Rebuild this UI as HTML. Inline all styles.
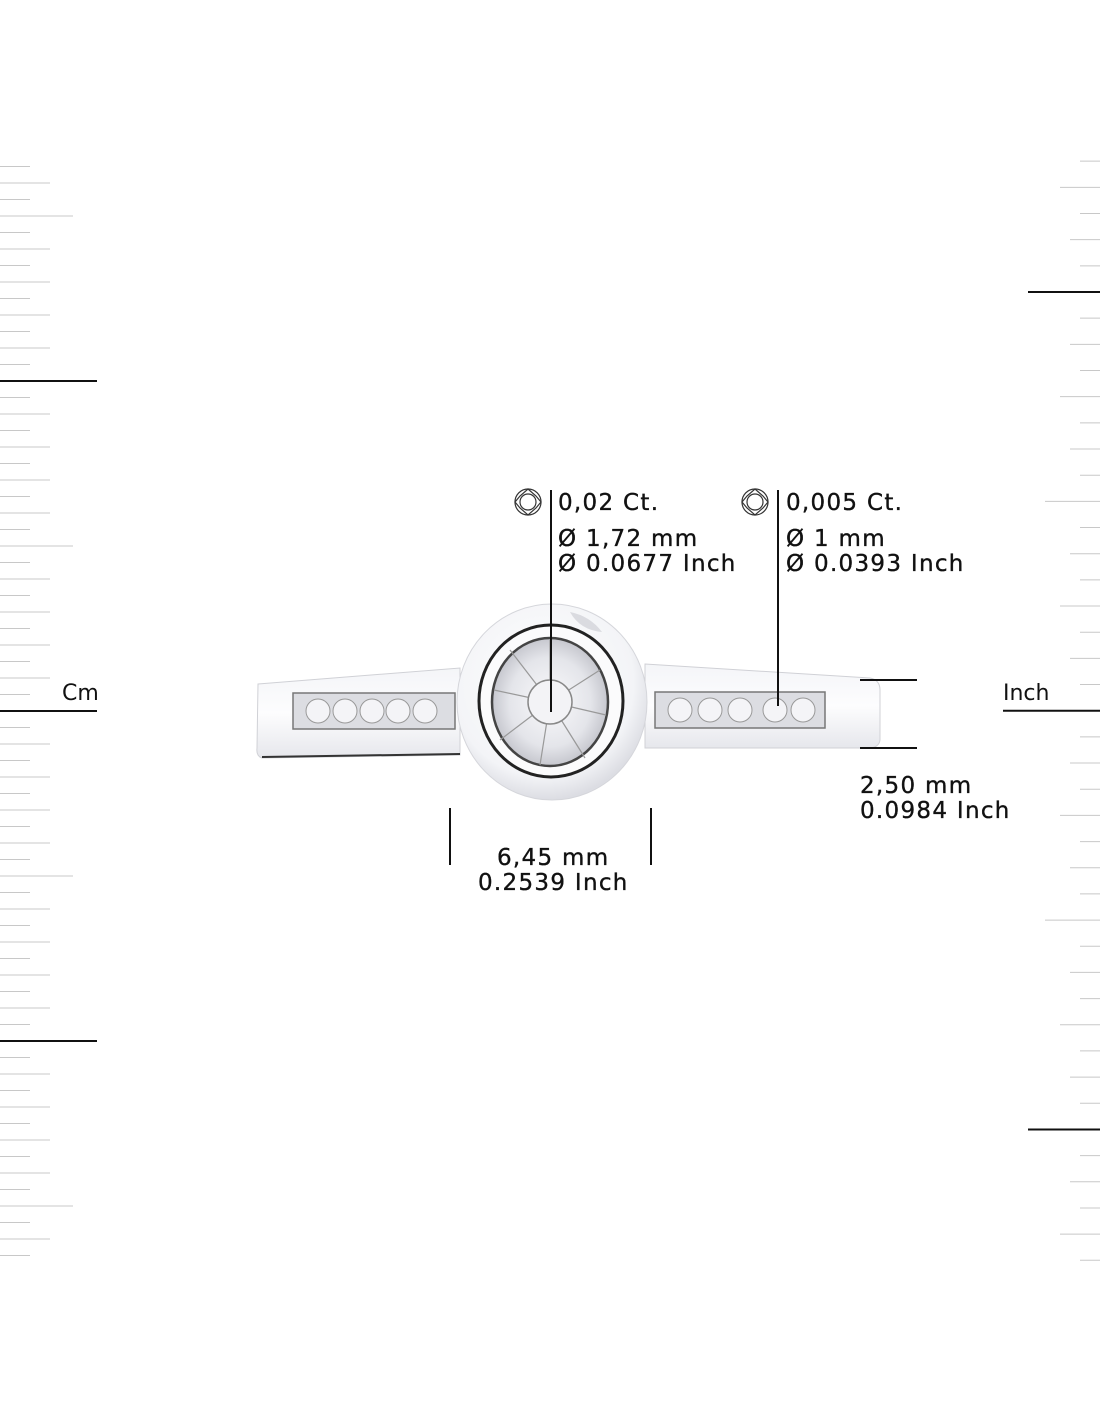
<!DOCTYPE html>
<html><head><meta charset="utf-8">
<style>
html,body{margin:0;padding:0;background:#fff;}
#wrap{position:relative;width:1100px;height:1422px;overflow:hidden;background:#fff;}
svg{position:absolute;left:0;top:0;}
</style></head>
<body><div id="wrap">
<svg id="s" width="1100" height="1422" viewBox="0 0 1100 1422" xmlns="http://www.w3.org/2000/svg">
<defs>
<linearGradient id="band" x1="0" y1="0" x2="0" y2="1">
<stop offset="0" stop-color="#f4f5f8"/><stop offset="0.5" stop-color="#fdfdfe"/><stop offset="1" stop-color="#e6e7ec"/>
</linearGradient>
<radialGradient id="head" cx="0.45" cy="0.4" r="0.6">
<stop offset="0" stop-color="#ffffff"/><stop offset="0.8" stop-color="#f3f4f7"/><stop offset="1" stop-color="#dcdde3"/>
</radialGradient>
<radialGradient id="inner" cx="0.5" cy="0.5" r="0.5">
<stop offset="0" stop-color="#fafafc"/><stop offset="0.7" stop-color="#e4e5ea"/><stop offset="1" stop-color="#c6c7ce"/>
</radialGradient>
</defs>
<g id="ticks"></g>
<path d="M258 684 L460 668 L460 755 L262 758 Q256 756 257 748 Z" fill="url(#band)" stroke="#d0d1d6" stroke-width="1"/>
<path d="M262 757 L460 754" stroke="#333" stroke-width="2"/>
<path d="M645 664 L870 678 Q880 680 880 690 L880 740 Q879 748 868 748 L645 748 Z" fill="url(#band)" stroke="#d0d1d6" stroke-width="1"/>
<rect x="293" y="693" width="162" height="36" fill="#dcdde2" stroke="#777" stroke-width="1.5"/>
<rect x="655" y="692" width="170" height="36" fill="#dcdde2" stroke="#777" stroke-width="1.5"/>
<g fill="#f4f4f7" stroke="#999" stroke-width="1">
<circle cx="318" cy="711" r="12"/><circle cx="345" cy="711" r="12"/><circle cx="372" cy="711" r="12"/><circle cx="398" cy="711" r="12"/><circle cx="425" cy="711" r="12"/>
<circle cx="680" cy="710" r="12"/><circle cx="710" cy="710" r="12"/><circle cx="740" cy="710" r="12"/><circle cx="775" cy="710" r="12"/><circle cx="803" cy="710" r="12"/>
</g>
<ellipse cx="552" cy="702" rx="95" ry="98" fill="url(#head)" stroke="#d5d6db" stroke-width="1"/>
<path d="M570 612 Q590 616 602 632 Q580 630 570 612 Z" fill="#dadbe0"/>
<ellipse cx="551" cy="701" rx="72" ry="76" fill="#fbfbfc" stroke="#222" stroke-width="3"/>
<ellipse cx="550" cy="702" rx="58" ry="64" fill="url(#inner)" stroke="#444" stroke-width="2.5"/>
<g stroke="#999" stroke-width="1.2">
<line x1="550" y1="702" x2="550" y2="640"/><line x1="550" y1="702" x2="600" y2="670"/><line x1="550" y1="702" x2="606" y2="715"/><line x1="550" y1="702" x2="585" y2="758"/>
<line x1="550" y1="702" x2="540" y2="765"/><line x1="550" y1="702" x2="500" y2="740"/><line x1="550" y1="702" x2="494" y2="690"/><line x1="550" y1="702" x2="510" y2="650"/>
</g>
<circle cx="550" cy="702" r="22" fill="#f3f3f6" stroke="#888" stroke-width="1.5"/>
<line x1="551" y1="490" x2="551" y2="712" stroke="#111" stroke-width="2"/>
<line x1="778" y1="490" x2="778" y2="706" stroke="#111" stroke-width="2"/>
<line x1="450" y1="808" x2="450" y2="865" stroke="#111" stroke-width="2"/>
<line x1="651" y1="808" x2="651" y2="865" stroke="#111" stroke-width="2"/>
<line x1="860" y1="680" x2="917" y2="680" stroke="#111" stroke-width="2"/>
<line x1="860" y1="748" x2="917" y2="748" stroke="#111" stroke-width="2"/>
<g fill="none" stroke="#333" stroke-width="1.2">
<circle cx="528" cy="502" r="13"/><circle cx="528" cy="502" r="8"/>
<path d="M528 489 L536 496 L541 502 L536 508 L528 515 L520 508 L515 502 L520 496 Z"/>
<circle cx="755" cy="502" r="13"/><circle cx="755" cy="502" r="8"/>
<path d="M755 489 L763 496 L768 502 L763 508 L755 515 L747 508 L742 502 L747 496 Z"/>
</g>
<g font-family="'DejaVu Sans', Verdana, sans-serif" font-size="23" fill="#111" stroke="#111" stroke-width="0.35" letter-spacing="1.3">
<text x="558" y="510">0,02 Ct.</text>
<text x="558" y="546">Ø 1,72 mm</text>
<text x="558" y="571">Ø 0.0677 Inch</text>
<text x="786" y="510">0,005 Ct.</text>
<text x="786" y="546">Ø 1 mm</text>
<text x="786" y="571">Ø 0.0393 Inch</text>
<text x="860" y="793">2,50 mm</text>
<text x="860" y="818">0.0984 Inch</text>
<text x="497" y="865">6,45 mm</text>
<text x="478" y="890">0.2539 Inch</text>
</g>
<g font-family="'DejaVu Sans', Verdana, sans-serif" font-size="22" fill="#111">
<text x="62" y="700">Cm</text>
<text x="1003" y="700">Inch</text>
</g>
</svg>
<script>
(function(){
var g=document.getElementById('ticks'),h='';
for(var k=-13;k<=53;k++){
 var y=381+k*16.5; if(y<160||y>1262) continue;
 var L,c='#c8c8c8',w=1;
 if(k%20==0){L=97;c='#111';w=2;}
 else if(k%10==0){L=73;}
 else if(k%2==0){L=50;}
 else L=30;
 h+='<line x1="0" x2="'+L+'" y1="'+y+'" y2="'+y+'" stroke="'+c+'" stroke-width="'+w+'"/>';
}
for(var j=-6;j<=37;j++){
 var y2=292+j*26.17; if(y2<155||y2>1262) continue;
 var L2,c2='#c8c8c8',w2=1;
 if(j%32==0||j%16==0){L2=72;c2='#111';w2=2;}
 else if(j%8==0)L2=55;
 else if(j%4==0)L2=40;
 else if(j%2==0)L2=30;
 else L2=20;
 if(j==16){L2=97;}
 h+='<line x1="'+(1100-L2)+'" x2="1100" y1="'+y2+'" y2="'+y2+'" stroke="'+c2+'" stroke-width="'+w2+'"/>';
}
g.innerHTML=h;
})();
</script>
</div></body></html>
